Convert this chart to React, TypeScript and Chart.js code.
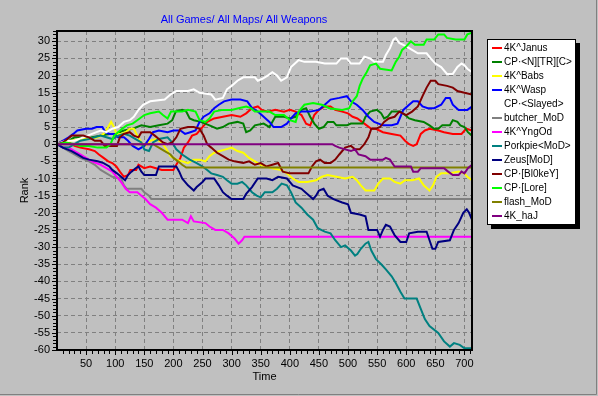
import React, { useEffect, useRef } from "react";
import { Chart, registerables } from "chart.js";

Chart.register(...registerables);

const titleText = "All Games/ All Maps/ All Weapons";
const xTitle = "Time";
const yTitle = "Rank";

const seriesLabels = [
  "4K^Janus", "CP·<N][TR][C>", "4K^Babs", "4K^Wasp", "CP·<Slayed>", "butcher_MoD",
  "4K^YngOd", "Porkpie<MoD>", "Zeus[MoD]", "CP·[Bl0keY]", "CP·[Lore]", "flash_MoD", "4K_haJ",
];
const seriesColors = [
  "#FF0000", "#008000", "#FFFF00", "#0000FF", "#FFFFFF", "#808080",
  "#FF00FF", "#008080", "#000080", "#800000", "#00FF00", "#808000", "#800080",
];

const xTicks = [50, 100, 150, 200, 250, 300, 350, 400, 450, 500, 550, 600, 650, 700];
const yTicks = [-60, -55, -50, -45, -40, -35, -30, -25, -20, -15, -10, -5, 0, 5, 10, 15, 20, 25, 30];

// [time, rank] pairs
const janus = [[0,0],[10,1],[20,0.5],[30,-0.5],[40,-1],[55,-1.5],[65,-2],[72,-3],[80,-4],[88,-5],[95,-5.5],[102,-6.5],[108,-8],[115,-9.5],[122,-9],[126,-7.5],[136,-7.5],[140,-6],[150,-7],[160,-6.5],[170,-7],[180,-7.5],[200,-7.5],[205,-6],[212,-4],[218,-1],[225,0.5],[232,2.5],[240,3],[250,5],[258,6.5],[270,7.5],[285,8],[300,8.5],[315,8],[325,9],[335,10.5],[345,11],[352,10],[362,9.5],[375,10],[390,9.5],[400,10],[410,9.5],[420,8.5],[428,6],[435,5.5],[442,8.5],[450,10],[460,11],[470,11],[478,10],[490,9.5],[500,9],[508,8],[516,7.5],[524,6.5],[532,5.5],[540,4.5],[548,4.5],[560,3.5],[575,3],[590,2.5],[598,1],[605,0],[612,-0.5],[618,0],[625,3],[632,4],[640,4.5],[655,4],[665,3.5],[680,3],[695,3],[703,4.5],[713,4]];
const nitrc = [[0,0],[10,0.5],[20,1],[30,2],[40,2],[50,1.5],[60,2],[75,2.5],[90,3],[100,3],[115,4],[130,4.5],[145,5.5],[160,5],[175,5.5],[190,6],[198,7],[204,9.5],[215,10],[222,9.5],[228,7.5],[235,7],[247,6.5],[262,5.5],[275,4.5],[285,5],[295,6],[310,6.5],[320,6],[325,3.5],[332,4],[340,5.5],[355,6],[365,5],[375,8],[390,8],[400,7.5],[410,8],[420,10],[428,10.5],[435,8],[442,6],[450,4.5],[458,5],[465,6.5],[475,6.5],[480,5.5],[498,5.5],[505,6],[525,6],[530,8],[538,9.5],[550,10],[557,9],[562,7.5],[568,8],[575,9.5],[590,9.5],[598,8.5],[605,7.5],[615,7],[630,6.5],[640,5.5],[648,4.5],[655,4.5],[662,5.5],[675,5.5],[680,7],[688,6.5],[693,5.5],[700,5],[706,3.5],[713,2.5]];
const babs = [[0,0],[10,0.5],[25,1],[40,1.5],[55,1.5],[70,2],[80,3],[88,5],[93,6.5],[98,5],[102,3],[110,3],[118,3.5],[125,4.5],[132,4.5],[138,2.5],[145,0.5],[152,-0.5],[160,1],[170,1.5],[180,0.5],[188,-1.5],[195,-3.5],[205,-4.5],[215,-5],[225,-5.5],[235,-4.5],[245,-4.5],[255,-5],[262,-3.5],[270,-2.5],[280,-2],[290,-1.5],[300,-1],[310,-2],[320,-2.5],[330,-4],[340,-5],[350,-6],[360,-6.5],[370,-7],[385,-7.5],[395,-8.5],[405,-10],[415,-11],[430,-11],[445,-10.5],[455,-9.5],[465,-9],[480,-9.5],[495,-10],[508,-9.5],[515,-10.5],[522,-12],[530,-13.5],[545,-13.5],[552,-11.5],[560,-10],[572,-10],[580,-11],[590,-11.5],[598,-10.5],[610,-10.5],[622,-10],[630,-12],[640,-13.5],[646,-12],[652,-9.5],[660,-8.5],[675,-8.5],[690,-8],[700,-8.5],[705,-9.5],[713,-10.5]];
const wasp = [[0,0],[10,1],[20,2],[28,3],[35,4],[50,4.5],[60,4.5],[68,5],[78,5],[83,3.5],[90,3],[98,3],[105,2],[115,2],[122,1],[130,-0.5],[140,-1.5],[150,-0.5],[158,1.5],[165,3.5],[175,4],[190,3.5],[200,4],[212,4],[220,3],[229,3.5],[238,4],[245,6.5],[252,8],[262,9],[270,10.5],[278,11.5],[287,12.5],[300,13],[315,13],[327,12.5],[335,10.5],[345,9.5],[355,8],[365,6.5],[372,5],[385,5],[395,6],[402,7.5],[410,9],[420,9.5],[435,9.5],[450,10],[460,11.5],[470,13],[485,13.5],[498,14],[505,12.5],[515,11.5],[525,10],[535,8],[545,6.5],[560,5.5],[575,5.5],[585,6],[590,8],[595,10],[605,11.5],[612,12.5],[620,12.5],[628,11],[637,10.5],[648,10.5],[660,11.5],[668,13.5],[675,13.5],[680,11.5],[690,10],[705,10],[713,11]];
const slayed = [[0,0],[15,1],[30,1],[45,2],[60,3],[75,4],[85,3.5],[95,4.5],[105,5],[115,6.5],[125,7],[132,8],[140,10],[148,11.5],[160,12.5],[185,13],[195,14.5],[205,15.5],[225,15.5],[235,16],[245,15],[265,14.5],[272,13],[285,13.5],[292,16],[300,17],[310,18.5],[320,19.5],[340,19.5],[345,18.5],[352,19],[362,20],[370,21],[378,20],[385,18.5],[395,19.5],[402,22.5],[415,24.5],[425,24],[445,24],[460,23.5],[480,23.5],[488,25],[498,25],[505,23.5],[520,23.5],[528,25.5],[538,25],[545,24],[560,24],[565,26],[572,28],[578,30.5],[582,31],[588,29.5],[600,28.5],[610,27.5],[620,26.5],[635,26.5],[642,25],[650,23.5],[660,22.5],[670,20.5],[680,20.5],[688,22.5],[695,23.5],[700,23],[705,22],[713,21]];
const butcher = [[0,0],[10,-1],[20,-2],[30,-3],[40,-4],[55,-5],[65,-6],[75,-7.5],[85,-8.5],[95,-9.5],[110,-10],[115,-12],[120,-13],[145,-13],[150,-14],[158,-15],[162,-16],[713,-16]];
const yngod = [[0,0],[10,-1],[20,-1],[30,-2],[40,-3],[50,-4],[60,-5],[75,-6],[85,-7],[95,-8],[100,-9],[110,-11],[118,-13],[125,-14],[138,-14],[145,-15],[152,-16],[160,-17.5],[170,-18.5],[180,-20],[190,-22],[215,-22],[225,-23],[230,-21],[235,-22.5],[255,-23],[262,-24],[272,-25],[285,-25],[295,-26],[305,-27.5],[312,-29],[318,-28],[322,-27],[713,-27]];
const porkpie = [[0,0],[10,-1],[20,-1],[30,0],[40,1],[55,1.5],[65,2],[75,2.5],[85,2],[95,1.5],[105,2.5],[115,3],[125,2.5],[135,1.5],[145,0.5],[150,-1.5],[158,-2],[165,0.5],[175,1.5],[190,2],[198,0.5],[205,-1.5],[215,-3],[228,-4.5],[240,-5.5],[250,-6.5],[258,-7.5],[265,-8.5],[275,-9],[285,-9.5],[292,-10.5],[300,-11.5],[310,-11.5],[318,-11],[325,-12],[335,-14],[343,-15],[350,-15.5],[357,-14],[370,-14],[378,-13],[386,-11.5],[395,-12],[402,-14],[410,-17],[420,-18.5],[430,-20.5],[440,-22],[448,-24.5],[460,-25.5],[470,-26],[478,-28],[488,-30],[495,-29.5],[505,-31],[512,-32.5],[516,-32],[522,-30.5],[530,-29],[535,-28.5],[540,-31],[548,-33.5],[557,-35],[565,-36.5],[575,-38.5],[582,-40.5],[590,-43],[597,-45],[618,-45],[625,-48],[632,-51],[640,-53],[655,-55],[665,-57.5],[675,-59],[682,-58],[692,-58.5],[700,-59.5],[713,-59.5]];
const zeus = [[0,0],[10,-1],[25,-2],[35,-3],[45,-4],[55,-4.5],[70,-5],[80,-5.5],[90,-6.5],[95,-7.5],[103,-8.5],[110,-9.5],[117,-10.5],[122,-9],[128,-8],[135,-7],[140,-6.5],[145,-8],[150,-9],[170,-9],[175,-6.5],[205,-6.5],[210,-8],[215,-10],[225,-12],[235,-13.5],[240,-12.5],[250,-11],[255,-10],[270,-10],[278,-12],[285,-14],[292,-15],[300,-16],[320,-16],[325,-14.5],[335,-12.5],[345,-10],[360,-10],[370,-10.5],[380,-9.5],[395,-10],[405,-12],[420,-13],[430,-14.5],[440,-16],[445,-15],[450,-13.5],[458,-13],[465,-15],[475,-16],[490,-17],[500,-17.5],[505,-20],[520,-20.5],[530,-21],[535,-25],[550,-25],[555,-27],[560,-25],[565,-23.5],[572,-24],[580,-26.5],[590,-28.5],[600,-28.5],[605,-26],[620,-25.5],[635,-25.5],[640,-28],[645,-30.5],[650,-30.5],[655,-28.5],[675,-28],[682,-25],[690,-23],[698,-20],[704,-19],[708,-20],[713,-22]];
const blokey = [[0,0],[10,0.5],[18,1.5],[25,2.5],[35,2.5],[45,2.5],[55,2],[65,1],[75,1],[82,-0.5],[95,-0.5],[103,-0.5],[108,2],[115,3],[125,3.5],[132,2.5],[140,2],[145,3.5],[160,3.5],[168,2.5],[175,1.5],[182,0.5],[190,0],[198,0.5],[205,2],[212,4.5],[225,5],[235,5],[245,4.5],[252,2.5],[258,0],[265,-1],[275,-2.5],[285,-3.5],[295,-4.5],[305,-5],[320,-5.5],[330,-5],[340,-6],[350,-5.5],[360,-6.5],[370,-6],[380,-5.5],[388,-8],[400,-8.5],[420,-8.5],[432,-8.5],[438,-6.5],[445,-5],[452,-4.5],[460,-5.5],[470,-5.5],[478,-4.5],[485,-3],[495,-1],[505,-0.5],[512,-1.5],[520,-1.5],[528,0],[535,2],[540,4.5],[548,4.5],[555,5],[562,6.5],[570,7.5],[580,8],[588,9.5],[600,8.5],[610,9.5],[620,11],[628,14],[635,16.5],[642,18.5],[650,18.5],[655,17.5],[670,17],[680,16.5],[688,15.5],[700,15],[713,14.5]];
const lore = [[0,0],[15,0.5],[30,0],[40,-0.5],[55,-0.5],[70,-1],[85,-1],[92,0],[98,2.5],[105,3.5],[112,4.5],[120,5.5],[130,6],[138,7],[150,8.5],[160,9],[175,9.5],[182,8.5],[190,7.5],[196,9.5],[215,9.5],[225,10],[238,9.5],[245,7],[255,6.5],[262,7.5],[270,9.5],[285,10],[300,10],[312,10.5],[325,11],[333,10.5],[340,9.5],[350,9.5],[365,9.5],[375,8.5],[390,8.5],[400,7],[410,6.5],[415,9.5],[425,11.5],[440,12],[455,11.5],[468,10.5],[490,10],[502,10.5],[508,12.5],[515,14],[520,17],[525,19],[532,21],[538,23],[548,23.5],[555,22],[575,21.5],[582,24],[588,25.5],[593,27.5],[600,28.5],[608,30],[615,29],[630,29],[635,30.5],[648,30.5],[655,32],[665,32],[670,31],[685,30.5],[700,30.5],[705,32],[713,32.5]];
const flash = [[0,0],[165,0],[175,-1],[185,-2],[195,-3],[200,-4],[208,-5],[215,-6],[222,-6.8],[713,-6.8]];
const haj = [[0,0],[473,0],[478,-0.5],[485,-1],[495,-1.5],[505,-2],[512,-1.5],[518,-3],[530,-3.5],[538,-4.5],[560,-4.5],[565,-4],[572,-4.5],[580,-6.5],[600,-6.5],[608,-6.5],[612,-8],[620,-8],[625,-7],[640,-7],[665,-7],[672,-8],[680,-9],[690,-9],[695,-8],[700,-8.5],[706,-7],[713,-6]];

const allSeries = [janus, nitrc, babs, wasp, slayed, butcher, yngod, porkpie, zeus, blokey, lore, flash, haj];

const FONT = "'Liberation Sans', Arial, sans-serif";

export default function App() {
  const ref = useRef<HTMLCanvasElement>(null);

  useEffect(() => {
    document.body.style.margin = "0";
    const canvas = ref.current;
    if (!canvas) return;

    const datasets = allSeries.map((s, i) => ({
      label: seriesLabels[i],
      data: s.map((p) => ({ x: p[0], y: p[1] })),
      borderColor: seriesColors[i],
      backgroundColor: seriesColors[i],
      borderWidth: 2,
      pointRadius: 0,
      tension: 0,
      fill: false,
      order: allSeries.length - i,
    }));

    const bgPlugin = {
      id: "bgPlugin",
      beforeDraw(chart: any) {
        const ctx = chart.ctx;
        ctx.save();
        ctx.fillStyle = "#C0C0C0";
        ctx.fillRect(0, 0, chart.width, chart.height);
        ctx.restore();
      },
    };

    const decor = {
      id: "decor",
      afterDraw(chart: any) {
        const ctx = chart.ctx;
        const { left, right, top, bottom } = chart.chartArea;
        const xs = chart.scales.x;
        const ys = chart.scales.y;
        ctx.save();
        // frame
        ctx.strokeStyle = "#000";
        ctx.lineWidth = 2;
        ctx.strokeRect(left, top, right - left, bottom - top);
        // y minor/major ticks
        ctx.lineWidth = 1;
        for (let v = -60; v <= 33; v++) {
          const y = Math.round(ys.getPixelForValue(v)) + 0.5;
          const len = v % 5 === 0 ? 4 : 3;
          ctx.beginPath();
          ctx.moveTo(left - 1 - len, y);
          ctx.lineTo(left - 1, y);
          ctx.stroke();
        }
        // x minor/major ticks
        for (let t = 10; t <= 713; t += 10) {
          const x = Math.round(xs.getPixelForValue(t)) + 0.5;
          const len = t % 50 === 0 ? 4 : 3;
          ctx.beginPath();
          ctx.moveTo(x, bottom + 1);
          ctx.lineTo(x, bottom + 1 + len);
          ctx.stroke();
        }
        // title
        ctx.font = `11px ${FONT}`;
        ctx.textAlign = "center";
        ctx.textBaseline = "middle";
        ctx.fillStyle = "#0000FF";
        ctx.fillText(titleText, 244, 20);
        // axis titles
        ctx.fillStyle = "#000";
        ctx.fillText(xTitle, (left + right) / 2, 377);
        ctx.save();
        ctx.translate(25, (top + bottom) / 2);
        ctx.rotate(-Math.PI / 2);
        ctx.fillText(yTitle, 0, 0);
        ctx.restore();
        // legend
        const bx = 487, by = 39, bw = 89, bh = 186;
        ctx.fillStyle = "#000";
        ctx.fillRect(bx + 4, by + 4, bw, bh);
        ctx.fillStyle = "#FFF";
        ctx.fillRect(bx, by, bw, bh);
        ctx.strokeStyle = "#000";
        ctx.lineWidth = 1;
        ctx.strokeRect(bx + 0.5, by + 0.5, bw - 1, bh - 1);
        ctx.font = `10px ${FONT}`;
        ctx.textAlign = "left";
        ctx.textBaseline = "middle";
        seriesLabels.forEach((lab, i) => {
          const cy = 48 + 14 * i;
          ctx.strokeStyle = seriesColors[i];
          ctx.lineWidth = 2;
          ctx.beginPath();
          ctx.moveTo(492, cy);
          ctx.lineTo(502, cy);
          ctx.stroke();
          ctx.fillStyle = "#000";
          ctx.fillText(lab, 504, cy, 70);
        });
        // outer border
        ctx.strokeStyle = "#808080";
        ctx.lineWidth = 1;
        ctx.beginPath();
        ctx.moveTo(596.5, 0);
        ctx.lineTo(596.5, 394.5);
        ctx.lineTo(0, 394.5);
        ctx.stroke();
        ctx.restore();
      },
    };

    const chart = new Chart(canvas, {
      type: "line",
      data: { datasets } as any,
      options: {
        animation: false,
        responsive: false,
        devicePixelRatio: 1,
        layout: { padding: { top: 31, right: 126, left: 0, bottom: 0 } },
        plugins: { legend: { display: false }, tooltip: { enabled: false }, title: { display: false } },
        scales: {
          x: {
            type: "linear",
            min: 0,
            max: 713,
            afterFit: (s: any) => { s.height = 46; },
            afterBuildTicks: (s: any) => { s.ticks = xTicks.map((v) => ({ value: v })); },
            grid: { color: "#808080", lineWidth: 1, drawTicks: false },
            border: { display: false, dash: [4, 3] },
            ticks: { color: "#000", font: { family: FONT, size: 11 }, padding: 7, maxRotation: 0, autoSkip: false },
          },
          y: {
            type: "linear",
            min: -60,
            max: 33,
            afterFit: (s: any) => { s.width = 57; },
            afterBuildTicks: (s: any) => { s.ticks = yTicks.map((v) => ({ value: v })); },
            grid: { color: "#808080", lineWidth: 1, drawTicks: false },
            border: { display: false, dash: [4, 3] },
            ticks: { color: "#000", font: { family: FONT, size: 11 }, padding: 7, autoSkip: false },
          },
        },
      } as any,
      plugins: [bgPlugin, decor],
    });

    return () => chart.destroy();
  }, []);

  return <canvas ref={ref} width={598} height={396} style={{ display: "block" }} />;
}
